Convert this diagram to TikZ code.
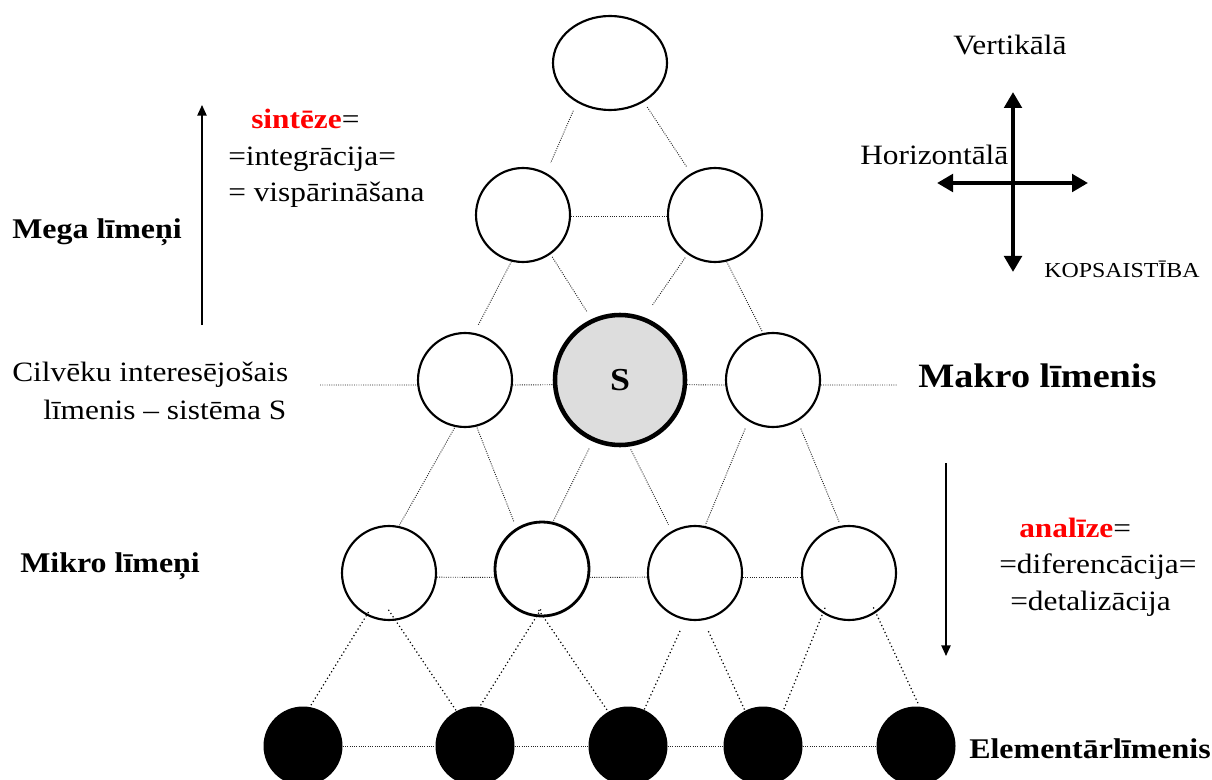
\documentclass[tikz,border=0pt]{standalone}
\usepackage{fontspec}
\setmainfont{Liberation Serif}[FakeStretch=1.12]
\usetikzlibrary{shapes.geometric,arrows.meta}
\newdimen\pxu \pxu=0.75pt
\definecolor{sgray}{HTML}{DDDDDD}
\begin{document}
\begin{tikzpicture}[x=0.75pt,y=-0.75pt,
  ell/.style={ellipse, draw, line width=1.6pt, fill=white, minimum width=114\pxu, minimum height=94\pxu, inner sep=0pt},
  circ/.style={circle, draw, line width=1.6pt, fill=white, minimum size=94\pxu, inner sep=0pt},
  scirc/.style={circle, draw, line width=3.4pt, fill=sgray, minimum size=130\pxu, inner sep=0pt, font=\fontsize{24}{27}\selectfont\bfseries},
  blk/.style={circle, fill=black, minimum size=79\pxu, inner sep=0pt},
  lk/.style={densely dotted, line width=0.7pt, draw=black!85},
  lk2/.style={dotted, line width=0.9pt, draw=black},
  sa/.style={shorten <=#1\pxu},
  sb/.style={shorten >=#1\pxu},
  txt/.style={anchor=base west, inner sep=0pt, font=\fontsize{21}{25}\selectfont},
  btxt/.style={txt, font=\fontsize{21.4}{25}\selectfont\bfseries},
  thin arrow/.style={line width=1.1pt, -{Triangle[length=8pt,width=7pt]}},
  thick arrow/.style={line width=3pt, {Triangle[length=12pt,width=13pt]}-{Triangle[length=12pt,width=13pt]}}
]
\useasboundingbox (0,0) rectangle (1212,780);

% nodes
\node[ell] (top) at (610,63) {};
\node[circ] (l2a) at (523,215) {};
\node[circ] (l2b) at (715,215) {};
\node[circ] (l3a) at (465,380) {};
\node[scirc] (S) at (620,380) {S};
\node[circ] (l3c) at (773,380) {};
\node[circ] (l4a) at (389,573) {};
\node[circ, line width=2.1pt] (l4b) at (542,569) {};
\node[circ] (l4c) at (695,573) {};
\node[circ] (l4d) at (849,573) {};
\node[blk] (b1) at (303,746) {};
\node[blk] (b2) at (475,746) {};
\node[blk] (b3) at (628,746) {};
\node[blk] (b4) at (763,746) {};
\node[blk] (b5) at (916,746) {};

% connectors top part
\draw[lk, sa=9, sb=11] (top.230) -- (l2a.61);
\draw[lk, sa=6, sb=8] (top.311) -- (l2b.120);
\draw[lk] (l2a.-2) -- (l2b.182);
\draw[lk, sb=8] (l2a.256) -- (l3a.79);
\draw[lk, sa=3, sb=8] (l2a.305) -- (S.115);
\draw[lk, sa=4, sb=15] (l2b.235) -- (S.69);
\draw[lk, sb=1] (l2b.284) -- (l3c.102);

% level 3 horizontals
\coordinate (cL) at (320,385);
\coordinate (cR) at (897,385);
\draw[lk] (cL) -- (l3a.186);
\draw[lk] (l3a.-6) -- (S.184);
\draw[lk] (S.-4) -- (l3c.186);
\draw[lk] (l3c.-6) -- (cR);

% level 3 -> 4
\draw[lk, sa=1, sb=1] (l3a.258) -- (l4a.78);
\draw[lk, sa=1, sb=7] (l3a.284) -- (l4b.122);
\draw[lk, sa=8] (S.246) -- (l4b.77);
\draw[lk, sa=3, sb=7] (S.278) -- (l4c.119);
\draw[lk, sa=8, sb=1] (l3c.239) -- (l4c.78);
\draw[lk, sa=8, sb=4] (l3c.301) -- (l4d.100);

% level 4 horizontals
\draw[lk] (l4a.-5) -- (l4b.190);
\draw[lk] (l4b.-10) -- (l4c.185);
\draw[lk] (l4c.-5) -- (l4d.185);

% level 4 -> elementary
\draw[lk2, sa=-4] (l4a.242) -- (b1.80);
\draw[lk2, sa=-13] (l4a.278) -- (b2.118);
\draw[lk2, sa=-9] (l4b.263) -- (b2.83);
\draw[lk2, sa=-9] (l4b.272) -- (b3.120);
\draw[lk2, sa=12] (l4c.258) -- (b3.66);
\draw[lk2, sa=12] (l4c.280) -- (b4.117);
\draw[lk2, sa=-6, sb=2] (l4d.237) -- (b4.60);
\draw[lk2, sa=-6, sb=3] (l4d.304) -- (b5.85);

% elementary horizontals
\draw[lk] (b1.east) -- (b2.west);
\draw[lk] (b2.east) -- (b3.west);
\draw[lk] (b3.east) -- (b4.west);
\draw[lk] (b4.east) -- (b5.west);

% vertical process arrows
\coordinate (upS) at (202,325);
\coordinate (upE) at (202,105);
\draw[thin arrow] (upS) -- (upE);
\coordinate (dnS) at (946,463);
\coordinate (dnE) at (946,656);
\draw[thin arrow] (dnS) -- (dnE);

% cross
\coordinate (vT) at (1013,92);
\coordinate (vB) at (1013,272);
\coordinate (hL) at (937,183);
\coordinate (hR) at (1088,183);
\draw[thick arrow] (vB) -- (vT);
\draw[thick arrow] (hL) -- (hR);

% texts
\node[txt] (t1) at (251,129) {\textcolor{red}{\bfseries sintēze}=};
\node[txt] (t2) at (228,166) {=integrācija=};
\node[txt] (t3) at (228,202) {= vispārināšana};
\node[btxt] (mega) at (12,239) {Mega līmeņi};
\node[txt] (cil1) at (12,381) {Cilvēku interesējošais};
\node[txt] (cil2) at (43,419) {līmenis – sistēma S};
\node[txt, font=\fontsize{25.6}{30}\selectfont\bfseries] (makro) at (918,387) {Makro līmenis};
\node[btxt] (mikro) at (20,572) {Mikro līmeņi};
\node[txt] (a1) at (1019,537) {\textcolor{red}{\bfseries analīze}=};
\node[txt] (a2) at (999,573) {=diferencācija=};
\node[txt] (a3) at (1010,610) {=detalizācija};
\node[btxt] (elem) at (969,758) {Elementārlīmenis};
\node[txt] (vert) at (953,55) {Vertikālā};
\node[txt] (hor) at (860,165) {Horizontālā};
\node[txt, font=\fontsize{16}{19}\selectfont] (kop) at (1044,278) {KOPSAISTĪBA};
\end{tikzpicture}
\end{document}
